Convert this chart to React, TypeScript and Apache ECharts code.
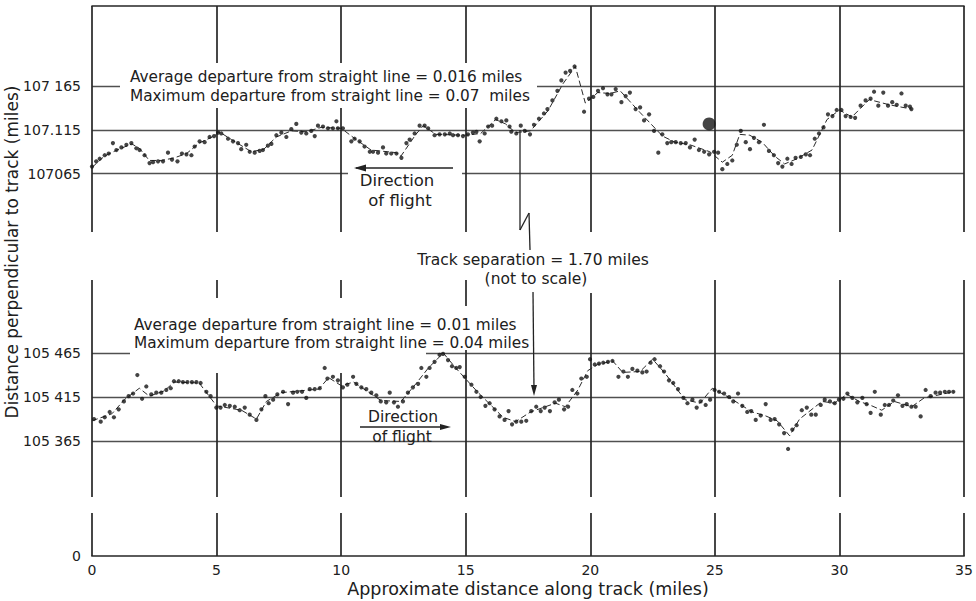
import { useEffect, useRef } from 'react';
import * as echarts from 'echarts';

// ---------- data ----------
const xTickValues = [0, 5, 10, 15, 20, 25, 30, 35];
const upperTickValues = [107.065, 107.115, 107.165];
const upperTickLabels = ['107065', '107.115', '107 165'];
const lowerTickValues = [105.365, 105.415, 105.465];
const lowerTickLabels = ['105 365', '105 415', '105 465'];
const bottomTickValues = [0];
const bottomTickLabels = ['0'];

const yAxisTitle = 'Distance perpendicular to track (miles)';
const xAxisTitle = 'Approximate distance along track (miles)';
const upperNotes = ['Average departure from straight line = 0.016 miles', 'Maximum departure from straight line = 0.07  miles'];
const lowerNotes = ['Average departure from straight line = 0.01 miles', 'Maximum departure from straight line = 0.04 miles'];
const separationNotes = ['Track separation = 1.70 miles', '(not to scale)'];
const directionNotes = ['Direction', 'of flight'];

const upperPoints: [number, number][] = [
  [0.0, 107.073], [0.17, 107.079], [0.31, 107.082], [0.51, 107.086], [0.67, 107.088], [0.84, 107.100], [0.98, 107.092],
  [1.18, 107.095], [1.38, 107.098], [1.58, 107.100], [1.78, 107.094], [1.91, 107.092], [2.11, 107.086], [2.31, 107.077],
  [2.45, 107.078], [2.65, 107.079], [2.85, 107.079], [3.05, 107.089], [3.21, 107.081], [3.43, 107.079], [3.61, 107.088],
  [3.79, 107.087], [3.99, 107.086], [4.12, 107.096], [4.32, 107.102], [4.52, 107.101], [4.72, 107.107], [4.90, 107.108],
  [5.06, 107.112], [5.19, 107.111], [5.46, 107.105], [5.66, 107.102], [5.86, 107.100], [5.99, 107.093], [6.19, 107.098],
  [6.33, 107.090], [6.53, 107.089], [6.73, 107.091], [6.86, 107.092], [7.06, 107.097], [7.20, 107.099], [7.40, 107.109],
  [7.60, 107.112], [7.80, 107.107], [8.00, 107.116], [8.20, 107.122], [8.40, 107.112], [8.60, 107.111], [8.80, 107.114],
  [8.94, 107.108], [9.07, 107.120], [9.27, 107.119], [9.47, 107.117], [9.67, 107.117], [9.81, 107.125], [9.87, 107.117],
  [10.07, 107.117], [10.41, 107.102], [10.54, 107.105], [10.74, 107.102], [10.94, 107.096], [11.15, 107.090], [11.28, 107.090],
  [11.48, 107.089], [11.68, 107.095], [11.81, 107.088], [12.01, 107.088], [12.22, 107.088], [12.42, 107.083], [12.62, 107.100],
  [12.75, 107.104], [12.95, 107.111], [13.15, 107.120], [13.35, 107.120], [13.49, 107.117], [13.75, 107.109], [13.95, 107.110],
  [14.16, 107.110], [14.36, 107.111], [14.49, 107.109], [14.69, 107.109], [14.89, 107.108], [15.09, 107.110], [15.29, 107.112],
  [15.43, 107.113], [15.56, 107.102], [15.76, 107.111], [15.90, 107.119], [16.06, 107.120], [16.23, 107.128], [16.43, 107.125],
  [16.63, 107.126], [16.76, 107.119], [16.83, 107.113], [17.03, 107.111], [17.21, 107.120], [17.37, 107.114],
  [17.58, 107.110], [17.74, 107.121], [17.94, 107.128], [18.14, 107.134], [18.28, 107.139], [18.48, 107.149], [18.68, 107.160],
  [18.84, 107.172], [19.01, 107.181], [19.19, 107.183], [19.37, 107.188], [19.75, 107.136], [19.95, 107.151], [20.12, 107.153],
  [20.31, 107.160], [20.51, 107.163], [20.69, 107.156], [20.85, 107.156], [21.02, 107.162], [21.25, 107.147], [21.42, 107.154],
  [21.59, 107.158], [21.82, 107.139], [22.00, 107.141], [22.16, 107.126], [22.36, 107.133], [22.56, 107.114], [22.73, 107.089],
  [22.89, 107.110], [23.09, 107.100], [23.25, 107.101], [23.43, 107.101], [23.63, 107.100], [23.83, 107.100], [24.00, 107.095],
  [24.19, 107.104], [24.36, 107.092], [24.57, 107.090], [24.77, 107.087], [24.97, 107.090], [25.13, 107.089], [25.30, 107.070],
  [25.50, 107.076], [25.70, 107.080], [25.88, 107.098], [26.04, 107.114], [26.24, 107.101], [26.41, 107.093], [26.57, 107.106],
  [26.77, 107.101], [26.97, 107.121], [27.17, 107.091], [27.37, 107.086], [27.54, 107.077], [27.71, 107.073], [27.91, 107.082],
  [28.08, 107.076], [28.24, 107.083], [28.45, 107.084], [28.65, 107.087], [28.82, 107.086], [29.01, 107.105], [29.18, 107.111],
  [29.36, 107.118], [29.54, 107.133], [29.72, 107.131], [29.89, 107.138], [30.08, 107.138], [30.25, 107.131], [30.45, 107.130],
  [30.63, 107.129], [30.85, 107.143], [31.05, 107.149], [31.25, 107.151], [31.39, 107.159], [31.56, 107.143], [31.76, 107.158],
  [31.95, 107.143], [32.12, 107.147], [32.30, 107.144], [32.49, 107.157], [32.66, 107.143], [32.83, 107.142], [32.89, 107.139],
];

const upperLine: [number, number][] = [
  [0.0, 107.072], [0.5, 107.085], [1.0, 107.092], [1.6, 107.099], [1.9, 107.094], [2.3, 107.080], [2.8, 107.080], [3.3, 107.083],
  [3.8, 107.088], [4.3, 107.100], [4.9, 107.108], [5.1, 107.113], [5.6, 107.104], [6.4, 107.090], [6.9, 107.093], [7.4, 107.107],
  [8.0, 107.114], [8.6, 107.113], [9.2, 107.118], [10.0, 107.117], [10.6, 107.104], [11.2, 107.092], [12.2, 107.089], [12.4, 107.085],
  [13.0, 107.110], [13.3, 107.120], [13.8, 107.110], [15.0, 107.109], [15.6, 107.111], [16.2, 107.127], [16.6, 107.122], [17.0, 107.112],
  [17.6, 107.114], [18.3, 107.137], [18.9, 107.168], [19.4, 107.188], [19.8, 107.146], [20.3, 107.158], [20.8, 107.157], [21.2, 107.160],
  [22.0, 107.135], [22.9, 107.108], [23.4, 107.101], [24.0, 107.098], [24.8, 107.090], [25.3, 107.078], [25.7, 107.086], [26.0, 107.110],
  [26.4, 107.109], [26.9, 107.101], [27.4, 107.085], [27.8, 107.076], [28.3, 107.082], [28.9, 107.092], [29.5, 107.127], [30.0, 107.138],
  [30.5, 107.130], [31.2, 107.150], [32.0, 107.144], [32.9, 107.139],
];

const upperBlot: [number, number][] = [[24.77, 107.122]];

const lowerPoints: [number, number][] = [
  [0.08, 105.390], [0.35, 105.387], [0.51, 105.392], [0.71, 105.398], [0.88, 105.392], [1.07, 105.401], [1.28, 105.410],
  [1.47, 105.416], [1.65, 105.419], [1.82, 105.440], [2.01, 105.413], [2.18, 105.427], [2.38, 105.418], [2.58, 105.420],
  [2.78, 105.420], [2.98, 105.423], [3.16, 105.425], [3.29, 105.433], [3.48, 105.433], [3.65, 105.432], [3.83, 105.432],
  [4.01, 105.432], [4.19, 105.432], [4.36, 105.431], [4.59, 105.421], [4.76, 105.416], [4.99, 105.403], [5.16, 105.403],
  [5.33, 105.406], [5.53, 105.405], [5.73, 105.404], [5.93, 105.400], [6.13, 105.403], [6.33, 105.395], [6.60, 105.389],
  [6.80, 105.401], [6.96, 105.416], [7.09, 105.408], [7.27, 105.412], [7.44, 105.418], [7.67, 105.421], [7.87, 105.407],
  [8.07, 105.420], [8.24, 105.421], [8.43, 105.421], [8.60, 105.414], [8.74, 105.424], [8.94, 105.424], [9.14, 105.425],
  [9.34, 105.448], [9.45, 105.436], [9.67, 105.438], [9.87, 105.434], [10.07, 105.426], [10.25, 105.429], [10.48, 105.438],
  [10.61, 105.430], [10.81, 105.426], [11.01, 105.424], [11.21, 105.420], [11.41, 105.417], [11.59, 105.410], [11.81, 105.409],
  [11.95, 105.420], [12.12, 105.409], [12.28, 105.404], [12.48, 105.410], [12.68, 105.420], [12.88, 105.426], [13.09, 105.430],
  [13.22, 105.448], [13.42, 105.438], [13.55, 105.448], [13.75, 105.455], [13.95, 105.463], [14.09, 105.464], [14.29, 105.457],
  [14.45, 105.450], [14.62, 105.448], [14.76, 105.449], [14.96, 105.438], [15.23, 105.429], [15.43, 105.421], [15.60, 105.415],
  [15.79, 105.405], [15.96, 105.408], [16.16, 105.401], [16.36, 105.393], [16.56, 105.389], [16.72, 105.399], [16.86, 105.384],
  [17.03, 105.387], [17.23, 105.387], [17.43, 105.388], [17.63, 105.399], [17.83, 105.404], [18.01, 105.399], [18.17, 105.403],
  [18.38, 105.399], [18.57, 105.409], [18.74, 105.412], [18.95, 105.401], [19.11, 105.404], [19.28, 105.423], [19.48, 105.419],
  [19.64, 105.436], [19.86, 105.438], [19.99, 105.458], [20.18, 105.452], [20.35, 105.453], [20.52, 105.454], [20.71, 105.455],
  [20.89, 105.456], [21.13, 105.438], [21.33, 105.444], [21.51, 105.438], [21.69, 105.447], [21.89, 105.445], [22.09, 105.443],
  [22.26, 105.444], [22.42, 105.454], [22.58, 105.458], [22.80, 105.450], [22.96, 105.444], [23.16, 105.434], [23.33, 105.431],
  [23.52, 105.424], [23.74, 105.414], [23.90, 105.408], [24.10, 105.412], [24.27, 105.403], [24.43, 105.410], [24.63, 105.406],
  [24.81, 105.412], [24.99, 105.423], [25.17, 105.421], [25.37, 105.419], [25.57, 105.415], [25.74, 105.410], [25.93, 105.419],
  [26.10, 105.405], [26.30, 105.398], [26.46, 105.399], [26.64, 105.389], [26.84, 105.394], [27.04, 105.407], [27.24, 105.389],
  [27.40, 105.390], [27.58, 105.384], [27.78, 105.374], [27.94, 105.356], [28.11, 105.378], [28.28, 105.383], [28.49, 105.400],
  [28.69, 105.403], [28.87, 105.395], [29.05, 105.395], [29.25, 105.406], [29.41, 105.412], [29.62, 105.410], [29.81, 105.408],
  [29.98, 105.412], [30.16, 105.413], [30.32, 105.419], [30.52, 105.414], [30.72, 105.409], [30.92, 105.414], [31.09, 105.407],
  [31.25, 105.397], [31.42, 105.421], [31.66, 105.395], [31.82, 105.406], [31.99, 105.406], [32.16, 105.411], [32.35, 105.417],
  [32.53, 105.405], [32.70, 105.407], [32.89, 105.404], [33.06, 105.404], [33.26, 105.393], [33.46, 105.423], [33.66, 105.416],
  [33.86, 105.420], [34.04, 105.420], [34.23, 105.421], [34.40, 105.421], [34.57, 105.421],
];

const lowerLine: [number, number][] = [
  [0.0, 105.388], [0.8, 105.396], [1.3, 105.412], [1.9, 105.425], [2.3, 105.416], [2.9, 105.422], [3.3, 105.432], [4.3, 105.431],
  [5.0, 105.405], [6.0, 105.400], [6.6, 105.390], [7.0, 105.410], [7.6, 105.420], [9.1, 105.424], [9.5, 105.437], [10.0, 105.428],
  [10.5, 105.432], [11.6, 105.411], [12.4, 105.410], [13.0, 105.430], [13.5, 105.448], [14.1, 105.465], [14.6, 105.448], [15.5, 105.420],
  [16.5, 105.392], [17.0, 105.387], [17.6, 105.398], [18.6, 105.408], [19.0, 105.404], [19.5, 105.423], [19.9, 105.445], [20.3, 105.452],
  [20.9, 105.456], [21.3, 105.443], [22.0, 105.444], [22.5, 105.458], [23.0, 105.442], [23.8, 105.412], [24.4, 105.408], [24.9, 105.425],
  [25.6, 105.414], [26.5, 105.398], [27.0, 105.394], [27.5, 105.388], [28.0, 105.371], [28.4, 105.390], [29.3, 105.410], [29.8, 105.408],
  [30.3, 105.418], [30.8, 105.410], [31.3, 105.405], [31.7, 105.400], [32.2, 105.410], [32.9, 105.404], [33.4, 105.414], [34.6, 105.421],
];

// ---------- styling ----------
const FONT = 'DejaVu Sans';
const INK = '#202020';

function labelFor(values: number[], labels: string[]) {
  return (v: number) => {
    const i = values.findIndex((t) => Math.abs(t - v) < 1e-6);
    return i >= 0 ? labels[i] : '';
  };
}

function txt(text: string, x: number, y: number, size: number, align = 'left', extra: any = {}) {
  return {
    type: 'text', x, y, z: 20, ...extra,
    style: { text, fontSize: size, fontFamily: FONT, fontWeight: 'normal', fill: INK, align, verticalAlign: 'middle' },
  };
}
function seg(x1: number, y1: number, x2: number, y2: number, w = 1.3) {
  return { type: 'line', z: 20, shape: { x1, y1, x2, y2 }, style: { stroke: '#222', lineWidth: w } };
}
function mask(x: number, y: number, width: number, height: number) {
  return { type: 'rect', z: 1, shape: { x, y, width, height }, style: { fill: '#ffffff' } };
}

export default function App() {
  const ref = useRef<HTMLDivElement>(null);
  useEffect(() => {
    if (!ref.current) return;
    const chart = echarts.init(ref.current, undefined, { renderer: 'svg' });
    const vLine = { show: true, lineStyle: { color: '#262626', width: 1.7 } };
    const hLine = { show: true, lineStyle: { color: '#505050', width: 1.4 } };
    const labelStyle = { fontSize: 14, fontFamily: FONT, fontWeight: 'normal', color: INK };

    const option: any = {
      animation: false,
      backgroundColor: '#ffffff',
      grid: [
        { left: 92, top: 6, width: 872, height: 226 },
        { left: 92, top: 280, width: 872, height: 217 },
        { left: 92, top: 513, width: 872, height: 43 },
      ],
      xAxis: [0, 1, 2].map((i) => ({
        type: 'value', gridIndex: i, min: 0, max: 35, interval: 5,
        position: i === 0 ? 'top' : 'bottom',
        axisLine: { show: i !== 1, onZero: false, lineStyle: { color: '#262626', width: 1.7 } },
        axisTick: { show: false },
        axisLabel: {
          show: i === 2, margin: 7, ...labelStyle,
          formatter: (v: number) => (xTickValues.includes(v) ? String(v) : ''),
        },
        splitLine: vLine,
        name: i === 2 ? xAxisTitle : '',
        nameLocation: 'middle', nameGap: 24,
        nameTextStyle: { fontSize: 17.5, fontFamily: FONT, fontWeight: 'normal', color: INK },
      })),
      yAxis: [
        {
          type: 'value', gridIndex: 0, min: 106.9978, max: 107.2575,
          axisLine: { show: false },
          axisTick: { show: false, customValues: upperTickValues },
          axisLabel: { customValues: upperTickValues, margin: 11, ...labelStyle, formatter: labelFor(upperTickValues, upperTickLabels) },
          splitLine: hLine,
        },
        {
          type: 'value', gridIndex: 1, min: 105.3014, max: 105.548,
          axisLine: { show: false },
          axisTick: { show: false, customValues: lowerTickValues },
          axisLabel: { customValues: lowerTickValues, margin: 11, ...labelStyle, formatter: labelFor(lowerTickValues, lowerTickLabels) },
          splitLine: hLine,
        },
        {
          type: 'value', gridIndex: 2, min: 0, max: 1,
          axisLine: { show: false },
          axisTick: { show: false, customValues: bottomTickValues },
          axisLabel: { customValues: bottomTickValues, margin: 11, ...labelStyle, formatter: labelFor(bottomTickValues, bottomTickLabels) },
          splitLine: { show: false },
        },
      ],
      series: [
        { type: 'line', xAxisIndex: 0, yAxisIndex: 0, data: upperLine, showSymbol: false, z: 4, silent: true,
          lineStyle: { color: '#2a2a2a', width: 1, type: [6, 3] } },
        { type: 'scatter', xAxisIndex: 0, yAxisIndex: 0, data: upperPoints, symbolSize: 4.2, z: 5, itemStyle: { color: '#151515' } },
        { type: 'scatter', xAxisIndex: 0, yAxisIndex: 0, data: upperBlot, symbolSize: 13, z: 5, itemStyle: { color: '#151515' } },
        { type: 'line', xAxisIndex: 1, yAxisIndex: 1, data: lowerLine, showSymbol: false, z: 4, silent: true,
          lineStyle: { color: '#2a2a2a', width: 1, type: [6, 3] } },
        { type: 'scatter', xAxisIndex: 1, yAxisIndex: 1, data: lowerPoints, symbolSize: 4.2, z: 5, itemStyle: { color: '#151515' } },
      ],
      graphic: [
        // white masks behind lettering
        mask(120, 63, 417, 45),
        mask(348, 162, 114, 48),
        mask(130, 298, 296, 75),
        mask(426, 306, 94, 44),
        mask(472, 266, 128, 27),
        // upper notes
        txt(upperNotes[0], 130, 77, 15.3),
        txt(upperNotes[1], 130, 96, 15.3),
        // lower notes
        txt(lowerNotes[0], 134, 325, 15.3),
        txt(lowerNotes[1], 134, 343, 15.3),
        // upper direction of flight (leftwards)
        seg(356, 168, 453, 168),
        { type: 'polygon', z: 20, shape: { points: [[354, 168], [366, 164.5], [366, 171.5]] }, style: { fill: '#222' } },
        txt(directionNotes[0], 397, 180, 16.5, 'center'),
        txt(directionNotes[1], 400, 200, 16.5, 'center'),
        // lower direction of flight (rightwards)
        seg(360, 427, 446, 427),
        { type: 'polygon', z: 20, shape: { points: [[451, 427], [440, 424], [440, 430]] }, style: { fill: '#222' } },
        txt(directionNotes[0], 403, 417, 15.5, 'center'),
        txt(directionNotes[1], 402, 437, 15.5, 'center'),
        // track separation
        seg(520, 130, 520, 230),
        seg(520, 230, 529, 213),
        seg(529, 213, 530, 250),
        txt(separationNotes[0], 533, 260, 15.5, 'center'),
        txt(separationNotes[1], 536, 279, 15.5, 'center'),
        seg(533, 292, 534, 390),
        { type: 'polygon', z: 20, shape: { points: [[534, 396], [531, 385], [537, 385]] }, style: { fill: '#222' } },
        // y axis title
        txt(yAxisTitle, 12, 252, 17, 'center', { rotation: Math.PI / 2 }),
      ],
    };
    chart.setOption(option);
    return () => chart.dispose();
  }, []);
  return <div ref={ref} style={{ position: 'fixed', left: 0, top: 0, width: 976, height: 601 }} />;
}
